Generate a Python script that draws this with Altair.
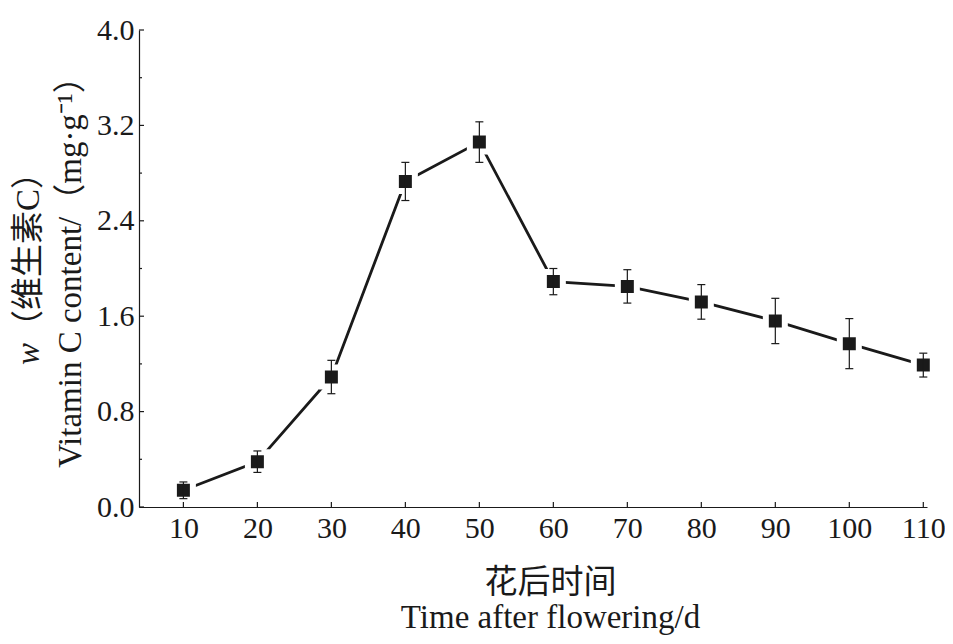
import altair as alt
import pandas as pd

# ---- data ----
days = [10, 20, 30, 40, 50, 60, 70, 80, 90, 100, 110]
vitc = [0.14, 0.38, 1.09, 2.73, 3.06, 1.89, 1.85, 1.72, 1.56, 1.37, 1.19]
err = [0.07, 0.09, 0.14, 0.16, 0.17, 0.11, 0.14, 0.145, 0.19, 0.21, 0.10]
y_major = [0.0, 0.8, 1.6, 2.4, 3.2, 4.0]
y_minor = [0.4, 1.2, 2.0, 2.8, 3.6]
x_ticks = [10, 20, 30, 40, 50, 60, 70, 80, 90, 100, 110]
x_title = ["花后时间", "Time after flowering/d"]
y_title_w = "w"
y_title_1 = "（维生素C）"
y_title_2 = "Vitamin C content/（mg·g⁻¹）"

W, H = 788, 477
INK = "#1a1a1a"
SERIF = "Liberation Serif, Times New Roman, Noto Sans CJK SC"

df = pd.DataFrame({"day": days, "vc": vitc, "err": err})
df["lo"] = df["vc"] - df["err"]
df["hi"] = df["vc"] + df["err"]

xs = alt.Scale(domain=[4, 110.5], nice=False, zero=False)
ys = alt.Scale(domain=[0, 4], nice=False, zero=False)

x_axis = alt.Axis(
    values=x_ticks, format="d", title=x_title, grid=False,
    ticks=False, tickSize=0, domain=True, domainColor=INK, domainWidth=1.2,
    labelFont=SERIF, labelFontSize=30, labelColor=INK, labelPadding=6,
    labelFlush=False, labelOverlap=False,
    titleFont=SERIF, titleFontSize=33, titleFontWeight="normal", titleColor=INK,
    titleLineHeight=35, titleBaseline="alphabetic", titleAlign="center",
    titleX=411, titleY=85,
)
y_axis = alt.Axis(
    values=y_major, format=".1f", title=None, grid=False,
    ticks=False, tickSize=0, domain=True, domainColor=INK, domainWidth=1.2,
    labelFont=SERIF, labelFontSize=30, labelColor=INK, labelPadding=5,
    labelFlush=False, labelOverlap=False,
)

X = alt.X("day:Q", scale=xs, axis=x_axis)
base = alt.Chart(df)

line = base.mark_line(color=INK, strokeWidth=2.8).encode(
    x=X, y=alt.Y("vc:Q", scale=ys, axis=y_axis))

squares = base.mark_square(size=361, fill=INK, stroke="white", strokeWidth=6, opacity=1).encode(
    x=X, y=alt.Y("vc:Q", scale=ys, axis=y_axis))

bars = base.mark_rule(color=INK, strokeWidth=1.2).encode(
    x=X, y=alt.Y("lo:Q", scale=ys, axis=y_axis), y2="hi:Q")

cap_lo = base.mark_tick(orient="horizontal", size=8, thickness=1.2, color=INK, opacity=1).encode(
    x=X, y=alt.Y("lo:Q", scale=ys, axis=y_axis))
cap_hi = base.mark_tick(orient="horizontal", size=8, thickness=1.2, color=INK, opacity=1).encode(
    x=X, y=alt.Y("hi:Q", scale=ys, axis=y_axis))

# inward axis ticks
ymaj = alt.Chart(pd.DataFrame({"v": y_major})).mark_rule(color=INK, strokeWidth=1.2).encode(
    y=alt.Y("v:Q", scale=ys, axis=y_axis), x=alt.value(0), x2=alt.value(5))
ymin = alt.Chart(pd.DataFrame({"v": y_minor})).mark_rule(color=INK, strokeWidth=1.2).encode(
    y=alt.Y("v:Q", scale=ys, axis=y_axis), x=alt.value(0), x2=alt.value(3))
xtk = alt.Chart(pd.DataFrame({"v": x_ticks})).mark_rule(color=INK, strokeWidth=1.2).encode(
    x=alt.X("v:Q", scale=xs, axis=x_axis), y=alt.value(H), y2=alt.value(H - 5))

# y-axis title (two rotated lines, italic w)
J = 313
t_w = alt.Chart(pd.DataFrame({"t": [y_title_w]})).mark_text(
    angle=270, font=SERIF, fontSize=33, fontStyle="italic", color=INK,
    align="right", baseline="alphabetic").encode(
    text="t:N", x=alt.value(-100), y=alt.value(J))
t_1 = alt.Chart(pd.DataFrame({"t": [y_title_1]})).mark_text(
    angle=270, font=SERIF, fontSize=33, color=INK,
    align="left", baseline="alphabetic").encode(
    text="t:N", x=alt.value(-100), y=alt.value(J))
t_2 = alt.Chart(pd.DataFrame({"t": [y_title_2]})).mark_text(
    angle=270, font=SERIF, fontSize=33, color=INK,
    align="center", baseline="alphabetic").encode(
    text="t:N", x=alt.value(-58), y=alt.value(234))

chart = alt.layer(
    line, squares, bars, cap_lo, cap_hi, ymaj, ymin, xtk, t_w, t_1, t_2
).properties(
    width=W, height=H,
    autosize=alt.AutoSizeParams(type="none"),
    padding={"left": 131, "top": 22, "right": 18, "bottom": 130},
    background="white",
).configure_view(stroke=None)

chart.save("out.html", embed_options={"renderer": "svg", "actions": False})
